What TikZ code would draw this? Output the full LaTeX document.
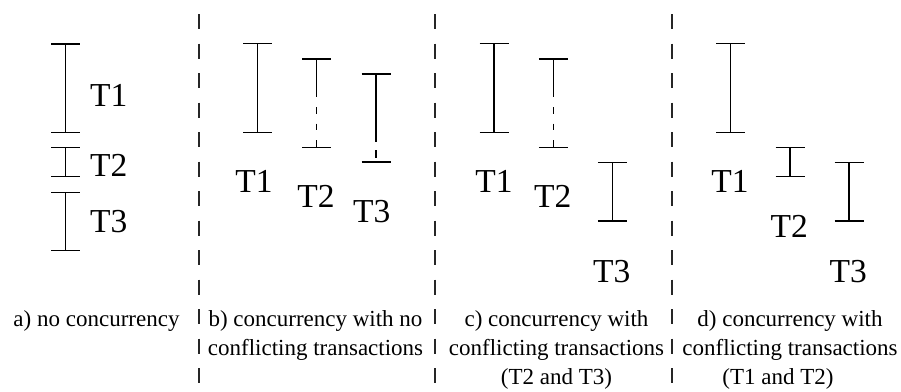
\documentclass[tikz,border=0pt]{standalone}
\usepackage{fontspec}
\setmainfont{Liberation Serif}
\tikzset{
  sep/.style={line width=1.2pt, dash pattern=on 15pt off 14.5pt, black!85},
  barline/.style={line width=1.2pt, line cap=butt},
  tlabel/.style={inner sep=0pt, font=\fontsize{33.5}{40}\selectfont},
  caption/.style={inner sep=0pt, anchor=north, align=center, font=\fontsize{23}{29}\selectfont},
}
\newcommand\tspan[3]{%
  \draw[barline] ({#1-14.5},#2) -- ({#1+14.5},#2) (#1,#2) -- (#1,#3) ({#1-14.5},#3) -- ({#1+14.5},#3);}
\newcommand\tspandash[4]{% x, top, end of solid, bottom
  \draw[barline] ({#1-14.5},#2) -- ({#1+14.5},#2) (#1,#2) -- (#1,#3) ({#1-14.5},#4) -- ({#1+14.5},#4);}
\begin{document}
\begin{tikzpicture}[x=1pt,y=-1pt]
\useasboundingbox (0,0) rectangle (901,391);
% separators
\coordinate (s1t) at (199,14); \coordinate (s1b) at (199,384);
\coordinate (s2t) at (435,14); \coordinate (s2b) at (435,384);
\coordinate (s3t) at (672,14); \coordinate (s3b) at (672,384);
\draw[sep] (s1t) -- (s1b);
\draw[sep] (s2t) -- (s2b);
\draw[sep] (s3t) -- (s3b);
% panel a
\tspan{65.7}{44}{132.7}
\tspan{65.7}{147.3}{176.7}
\tspan{65.7}{192.3}{250.7}
\node[tlabel, anchor=west] (a1) at (90,95) {T1};
\node[tlabel, anchor=west] (a2) at (90,165.5) {T2};
\node[tlabel, anchor=west] (a3) at (90,221.5) {T3};
% panel b
\tspan{257.7}{43.3}{132.7}
\tspandash{316.7}{59}{97}{147.3}
\draw[barline, dash pattern=on 6.5pt off 10pt] (316.7,107) -- (316.7,147.3);
\tspandash{376}{74}{141.7}{162}
\draw[barline] (376,150) -- (376,158);
\node[tlabel] (b1) at (254,181.7) {T1};
\node[tlabel] (b2) at (316,196.7) {T2};
\node[tlabel] (b3) at (371.7,211.7) {T3};
% panel c
\tspan{494}{43.3}{132.7}
\tspandash{553.3}{59}{97}{147.3}
\draw[barline, dash pattern=on 6.5pt off 10pt] (553.3,107) -- (553.3,147.3);
\tspan{612.3}{162.3}{221}
\node[tlabel] (c1) at (494,181.7) {T1};
\node[tlabel] (c2) at (552.7,196.7) {T2};
\node[tlabel] (c3) at (611.7,271.7) {T3};
% panel d
\tspan{730.7}{43.3}{132.7}
\tspan{790}{147.3}{176.7}
\tspan{849}{162.3}{221}
\node[tlabel] (d1) at (730,181.7) {T1};
\node[tlabel] (d2) at (789.3,226.7) {T2};
\node[tlabel] (d3) at (848.3,271.7) {T3};
% captions
\node[caption] (capa) at (96.5,310.5) {a) no concurrency};
\node[caption] (capb) at (315.5,310.5) {b) concurrency with no\\conflicting transactions};
\node[caption] (capc) at (556.5,310.5) {c) concurrency with\\conflicting transactions\\(T2 and T3)};
\node[caption] (capd) at (790,310.5) {d) concurrency with\\conflicting transactions\\(T1 and T2)\hspace*{24pt}};
\end{tikzpicture}
\end{document}
